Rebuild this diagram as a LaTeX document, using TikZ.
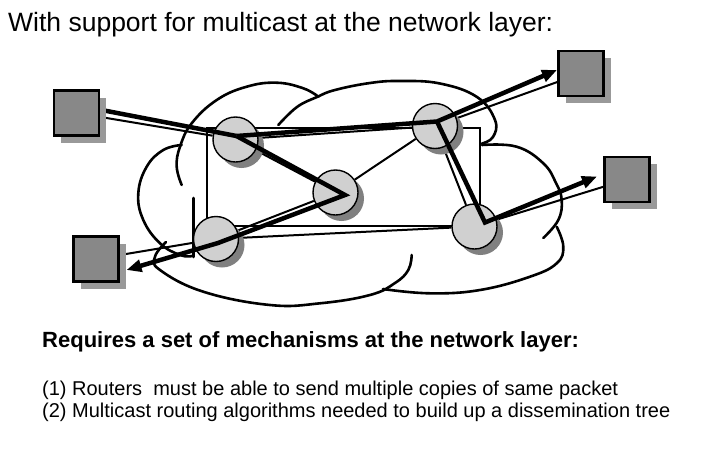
\documentclass[tikz,border=0pt]{standalone}
\usepackage{fontspec}
\setmainfont{Liberation Sans}
\usetikzlibrary{arrows.meta, shadows}
\pgfdeclarelayer{fondo}
\pgfdeclarelayer{medio}
\pgfsetlayers{fondo,medio,main}
\definecolor{grisnodo}{HTML}{D0D0D0}
\definecolor{grissombra}{HTML}{808080}
\definecolor{grishost}{HTML}{888888}
\definecolor{grishostsombra}{HTML}{999999}
\tikzset{
    enrutador/.style={
        circle, draw=black, line width=1.4pt, fill=grisnodo,
        minimum size=45pt, inner sep=0pt,
        drop shadow={shadow xshift=6pt, shadow yshift=-6pt,
                     fill=grissombra, opacity=1}
    },
    host/.style={
        rectangle, draw=black, line width=2.5pt, fill=grishost,
        minimum size=45pt, inner sep=0pt,
        drop shadow={shadow xshift=7pt, shadow yshift=-7pt,
                     fill=grishostsombra, opacity=1}
    },
    enlace/.style={line width=2pt},
    flujo/.style={line width=4.5pt},
    flecha/.style={flujo, -{Triangle[length=15pt, width=12pt]}},
    nube/.style={line width=2.6pt, line cap=round},
    texto/.style={anchor=base west, inner sep=0pt}
}

\begin{document}
\begin{tikzpicture}[x=1pt, y=-1pt]
    \useasboundingbox (0,0) rectangle (710,451);

    \node[texto, font=\fontsize{26.5}{30}\selectfont] (titulo) at (8,31.5)
        {With support for multicast at the network layer:};

    % enrutadores
    \node[enrutador] (r1) at (235.5,139.5) {};
    \node[enrutador] (r2) at (335.5,192.5) {};
    \node[enrutador] (r3) at (216,239) {};
    \node[enrutador] (r4) at (435,126) {};
    \node[enrutador] (r5) at (474.5,226.5) {};

    % puntos del arbol multicast
    \coordinate (src) at (99,109.5);
    \coordinate (j1) at (236.5,136);
    \coordinate (j2) at (345,195);
    \coordinate (j3) at (218,243);
    \coordinate (j4) at (437,121.5);
    \coordinate (j5) at (485,222.5);
    \coordinate (t2) at (126.5,270);
    \coordinate (t3) at (557,70);
    \coordinate (t4) at (597,176.5);

    \draw[flujo] (src) -- (j1);
    \draw[flecha] (j1) -- (j2) -- (j3) -- (t2);
    \draw[flecha] (j1) -- (j4) -- (t3);
    \draw[flecha] (j4) -- (j5) -- (t4);

    % hosts
    \node[host] (h1) at (76.5,113) {};
    \node[host] (h2) at (96,259) {};
    \node[host] (h3) at (581,73.5) {};
    \node[host] (h4) at (627,179.5) {};

    \begin{pgfonlayer}{medio}
        \draw[enlace] (206.7,127.7) rectangle (480,225.7);
        \draw[enlace] (h1) -- (r1);
        \draw[enlace] (r1) -- (r4);
        \draw[enlace] (r1) -- (r2);
        \draw[enlace] (r2) -- (r3);
        \draw[enlace] (r3) -- (h2);
        \draw[enlace] (r4) -- (h3);
        \draw[enlace] (r4) -- (r5);
        \draw[enlace] (r5) -- (h4);
        \draw[enlace] (r2) -- (r4);
        \draw[enlace] (r3) -- (r5);
    \end{pgfonlayer}

    % nube
    \begin{pgfonlayer}{fondo}
        \draw[nube] plot[smooth, tension=0.7] coordinates {(181.7,185) (176.7,166.7)
            (180,146.7) (191.7,123.3) (216.7,100) (246.7,86.7) (276.7,82.7)
            (303.3,88.3) (318.3,96.7)};
        \draw[nube] plot[smooth, tension=0.7] coordinates {(278.3,125) (297,107)
            (317,97) (335,90) (370,83) (400,81) (440,83.5) (477,97) (495,120)
            (493,137) (482,143.5)};
        \draw[nube] plot[smooth, tension=0.7] coordinates {(482,145) (516.7,146.7)
            (543.3,163.3) (556,183) (561.7,200) (558.3,220) (543.3,238)};
        \draw[nube] plot[smooth, tension=0.7] coordinates {(556.7,226.7) (563.3,246.7)
            (556.7,263.3) (530,276.7) (480,290) (430,293.3) (383,289)};
        \draw[nube] plot[smooth, tension=0.7] coordinates {(411.7,255) (408.3,270)
            (395,283) (370,295) (320,303.3) (270,305) (203.3,291.7) (160,270)
            (155,256.7) (166,242)};
        \draw[nube] plot[smooth, tension=0.7] coordinates {(181.7,145) (163.3,150)
            (146.7,166.7) (138.3,193.3) (143.3,220) (160,243.3) (180,255) (192,256)};
        \draw[nube] (193.3,198) -- (193.3,257);
    \end{pgfonlayer}

    \node[texto, font=\fontsize{22}{26}\selectfont\bfseries] (requisitos) at (42,347)
        {Requires a set of mechanisms at the network layer:};
    \node[texto, font=\fontsize{20}{22}\selectfont] (punto1) at (42,395)
        {(1) Routers\ \ must be able to send multiple copies of same packet};
    \node[texto, font=\fontsize{20}{22}\selectfont] (punto2) at (42,417)
        {(2) Multicast routing algorithms needed to build up a dissemination tree};

\end{tikzpicture}
\end{document}
